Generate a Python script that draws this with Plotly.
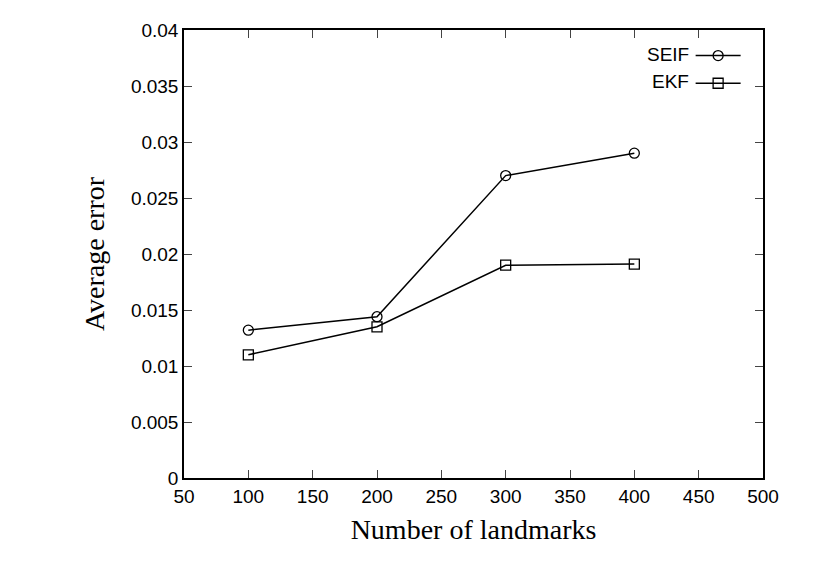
import plotly.graph_objects as go

landmarks = [100, 200, 300, 400]
seif_error = [0.0132, 0.0144, 0.0270, 0.0290]
ekf_error = [0.0110, 0.0135, 0.0190, 0.0191]

fig = go.Figure()
fig.add_trace(go.Scatter(x=landmarks, y=seif_error, mode="lines+markers", name=" ",
                         line=dict(color="black", width=1.5),
                         marker=dict(symbol="circle-open", size=10, color="black", line=dict(width=1.3))))
fig.add_trace(go.Scatter(x=landmarks, y=ekf_error, mode="lines+markers", name="  ",
                         line=dict(color="black", width=1.5),
                         marker=dict(symbol="square-open", size=10, color="black", line=dict(width=1.3))))

axis = dict(showgrid=False, zeroline=False, ticks="inside", ticklen=8, mirror="allticks",
            showline=True, linecolor="black", linewidth=1.5,
            tickfont=dict(family="Liberation Sans", size=19, color="black"))
fig.update_xaxes(range=[50, 500], dtick=50, title=dict(text="Number of landmarks", standoff=14,
                 font=dict(family="Liberation Serif", size=28, color="black")), **axis)
fig.update_yaxes(range=[0, 0.04], dtick=0.005, tickformat="~g", title=dict(text="Average error", standoff=18,
                 font=dict(family="Liberation Serif", size=28, color="black")), **axis)

fig.add_annotation(x=0.875, y=0.946, xref="paper", yref="paper", text="SEIF", showarrow=False,
                   xanchor="right", yanchor="middle", font=dict(family="Liberation Sans", size=19, color="black"))
fig.add_annotation(x=0.875, y=0.884, xref="paper", yref="paper", text="EKF", showarrow=False,
                   xanchor="right", yanchor="middle", font=dict(family="Liberation Sans", size=19, color="black"))

fig.update_layout(width=821, height=568, plot_bgcolor="white", paper_bgcolor="white",
                  margin=dict(l=176, r=66, t=22, b=98),
                  legend=dict(x=0.875, y=0.985, xanchor="left", yanchor="top", bgcolor="rgba(0,0,0,0)",
                              itemwidth=45, tracegroupgap=0,
                              font=dict(family="Liberation Sans", size=19)))
fig.write_html("out.html")
